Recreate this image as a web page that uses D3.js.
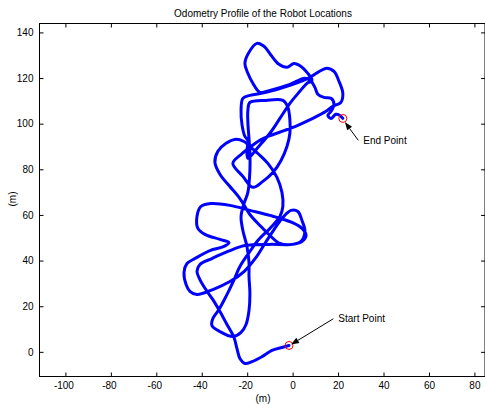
<!DOCTYPE html>
<html><head><meta charset="utf-8">
<script src="https://cdn.jsdelivr.net/npm/d3@7"></script>
<style>
body{margin:0;background:#fff}
svg{display:block}
text{font-family:"Liberation Sans",Arial,sans-serif;fill:#000}
</style>
</head><body>
<svg id="chart" width="485" height="404"></svg>
<script>
// ---------- data (metres) ----------
const xTicks = [-100,-80,-60,-40,-20,0,20,40,60,80];
const yTicks = [0,20,40,60,80,100,120,140];
const title = "Odometry Profile of the Robot Locations";
const xLabel = "(m)";
const yLabel = "(m)";

const odomX = [-1.6,-4.7,-9.1,-13.5,-17.9,-21.0,-23.2,-24.5,-25.8,-28.9,-32.0,-35.1,-38.2,-40.8,-42.1,-40.8,-35.5,-28.5,-21.0,-10.0,
 -0.3,4.1,5.9,4.1,-0.3,-10.0,-18.8,-27.6,-36.0,-40.4,-42.1,-41.7,-38.6,-32.0,-28.0,-30.2,-36.4,-43.0,-46.5,-47.8,-46.9,
 -45.2,-42.1,-35.1,-27.6,-21.4,-16.1,-12.2,-8.2,-4.3,-0.7,2.3,4.1,5.4,3.7,0.1,-5.6,-10.0,-14.4,-18.8,-23.2,
 -28.0,-32.0,-34.2,-32.9,-29.3,-25.4,-21.4,-18.8,-14.8,-10.9,-6.9,-4.7,-4.3,-5.6,-10.0,-15.3,-19.7,-23.2,-26.3,-29.3,
 -32.4,-35.1,-35.5,-32.0,-26.3,-22.7,-20.5,-19.2,-18.8,-19.2,-19.2,-20.1,-21.9,-22.7,-21.4,-19.7,-18.8,-18.8,-19.2,-19.7,
 -19.7,-18.8,-11.7,-4.3,-2.1,-1.2,-1.2,-2.5,-5.1,-8.7,-13.1,-17.5,-21.9,-26.3,-22.7,-18.8,-15.3,-10.9,-4.7,2.3,
 8.9,14.7,17.7,21.2,22.1,20.4,18.2,15.1,11.1,7.6,-1.2,-11.7,-18.8,-21.9,-22.7,-22.3,-21.0,-19.7,-20.1,-19.7,
 -15.3,-10.0,-5.6,-1.2,3.2,6.3,8.5,6.3,3.7,0.6,-2.5,-6.0,-9.5,-12.6,-15.7,-19.2,-21.0,-19.7,-17.5,-14.4,
 -10.0,-1.2,5.4,8.1,9.8,11.1,13.8,16.9,18.2,16.9,15.5,16.9,19.0,20.8,22.1];
const odomY = [2.8,1.9,0.6,-2.1,-4.3,-5.1,-2.9,1.4,6.3,12.0,17.7,22.9,27.3,31.7,35.2,38.3,40.9,44.0,46.6,47.1,
 47.1,48.4,51.0,54.1,56.7,59.8,62.0,64.2,65.0,63.7,59.3,54.1,51.5,49.3,47.9,46.2,44.4,40.9,38.7,34.8,29.5,
 26.5,25.1,27.3,30.8,35.2,41.4,47.5,53.6,58.9,62.0,61.5,57.6,52.8,48.4,47.1,47.5,51.0,55.4,60.2,67.2,
 72.9,77.8,83.0,87.9,91.4,93.1,92.2,90.0,86.5,82.6,76.5,69.9,63.7,59.3,54.1,48.8,42.7,37.4,30.4,24.3,
 18.6,14.6,11.5,8.9,6.7,8.5,12.0,18.1,25.6,33.0,39.2,46.2,53.2,59.3,65.0,69.9,79.5,87.4,93.5,100.6,
 105.8,109.3,110.2,110.2,107.2,101.5,95.8,90.0,83.9,78.6,74.7,72.1,76.9,82.6,86.5,89.6,92.2,94.4,96.6,99.3,
 102.3,105.4,107.6,109.3,113.3,118.6,122.9,124.3,122.5,120.3,116.8,113.7,112.4,111.1,105.8,99.7,94.4,92.7,88.3,84.8,
 89.6,95.8,102.3,108.9,114.2,117.7,119.0,122.5,125.1,126.4,124.7,126.0,130.0,133.9,135.2,131.3,126.4,122.1,117.7,113.7,
 114.6,117.2,119.9,118.6,115.9,112.9,111.5,111.1,108.5,105.4,103.6,102.3,104.1,103.6,102.3];

const markerPoints = [[-1.6, 2.8], [22.1, 102.3]];
const annotLabels = ["Start Point", "End Point"];
const annotTail = [[17.9, 14.5], [28.9, 92.7]];
const annotHead = [[-0.7, 3.2], [23.0, 100.7]];

// ---------- layout ----------
const svg = d3.select("#chart");
const L = 39.5, R = 486, T = 23.5, B = 376.5;
const x = d3.scaleLinear().domain([-111.4, 85.1]).range([L, R]);
const y = d3.scaleLinear().domain([-10.8, 143.9]).range([B, T]);

// trajectory
const pts = odomX.map((v, i) => [v, odomY[i]]);
svg.append("path")
  .datum(pts)
  .attr("fill", "none")
  .attr("stroke", "#0000ff")
  .attr("stroke-width", 3)
  .attr("stroke-linejoin", "round")
  .attr("stroke-linecap", "round")
  .attr("d", d3.line().x(d => x(d[0])).y(d => y(d[1])).curve(d3.curveCatmullRom.alpha(0.5)));

// markers
svg.selectAll("circle.mk").data(markerPoints).join("circle")
  .attr("class", "mk")
  .attr("cx", d => x(d[0])).attr("cy", d => y(d[1])).attr("r", 4)
  .attr("fill", "none").attr("stroke", "#ff0000").attr("stroke-width", 1);

// annotations
annotLabels.forEach((lab, i) => {
  const tx = x(annotTail[i][0]), ty = y(annotTail[i][1]);
  const hx = x(annotHead[i][0]), hy = y(annotHead[i][1]);
  const ang = Math.atan2(hy - ty, hx - tx);
  const hl = 8, hw = 3;
  const bx = hx - hl * Math.cos(ang), by = hy - hl * Math.sin(ang);
  svg.append("line").attr("x1", tx).attr("y1", ty).attr("x2", bx).attr("y2", by)
    .attr("stroke", "#000").attr("stroke-width", 1);
  svg.append("polygon")
    .attr("points", [[hx, hy],
      [bx + hw * Math.sin(ang), by - hw * Math.cos(ang)],
      [bx - hw * Math.sin(ang), by + hw * Math.cos(ang)]].map(p => p.join(",")).join(" "))
    .attr("fill", "#000");
  svg.append("text").attr("x", tx + 5).attr("y", ty).attr("dy", "0.35em")
    .attr("font-size", 10).text(lab);
});

// axes
const fmt = d => String(d);
const gx = svg.append("g").attr("transform", `translate(0,${B})`)
  .call(d3.axisBottom(x).tickValues(xTicks).tickFormat(fmt).tickSizeInner(-4).tickSizeOuter(0).tickPadding(5));
gx.selectAll(".tick text").attr("dx", d => d < 0 ? -2 : 0);
const gy = svg.append("g").attr("transform", `translate(${L},0)`)
  .call(d3.axisLeft(y).tickValues(yTicks).tickFormat(fmt).tickSizeInner(-4).tickSizeOuter(0).tickPadding(6));
const gt = svg.append("g").attr("transform", `translate(0,${T})`)
  .call(d3.axisTop(x).tickValues(xTicks).tickFormat("").tickSizeInner(-4).tickSizeOuter(0));
const gr = svg.append("g").attr("transform", `translate(${R - 1},0)`)
  .call(d3.axisRight(y).tickValues(yTicks).tickFormat("").tickSizeInner(-4).tickSizeOuter(0));
[gx, gy, gt, gr].forEach(g => {
  g.selectAll("path.domain").remove();
  g.selectAll("line").attr("stroke", "#000");
  g.selectAll("text").attr("font-size", 10).attr("font-family", '"Liberation Sans", Arial, sans-serif').attr("fill", "#000");
});

// box
svg.append("rect").attr("x", L).attr("y", T).attr("width", R - L - 1).attr("height", B - T)
  .attr("fill", "none").attr("stroke", "#000").attr("stroke-width", 1);

// titles
svg.append("text").attr("x", 263).attr("y", 16.5).attr("text-anchor", "middle")
  .attr("font-size", 10).text(title);
svg.append("text").attr("x", 263).attr("y", 401.5).attr("text-anchor", "middle")
  .attr("font-size", 10).text(xLabel);
svg.append("text").attr("transform", "translate(15.5,199) rotate(-90)").attr("text-anchor", "middle")
  .attr("font-size", 10).text(yLabel);
</script>
</body></html>
